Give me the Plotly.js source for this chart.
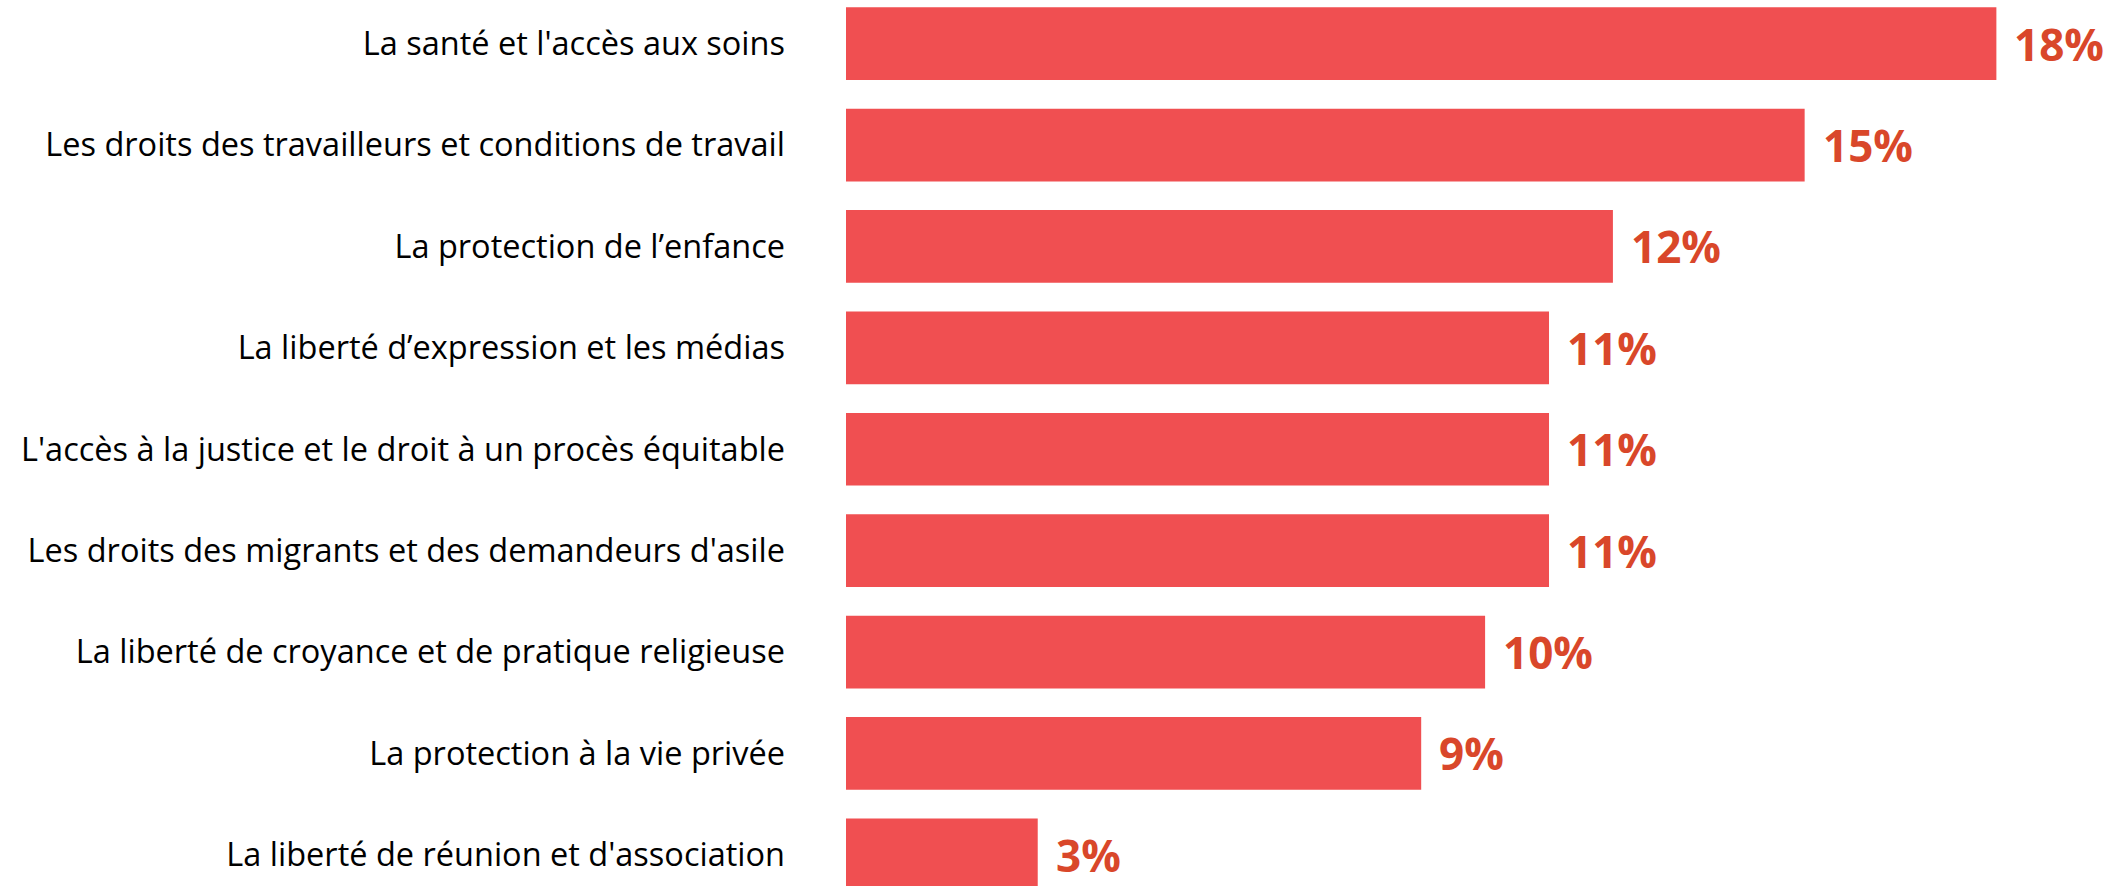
<!DOCTYPE html>
<html>
<head>
<meta charset="utf-8">
<script src="https://cdn.plot.ly/plotly-3.0.1.min.js"></script>
<style>
  html, body { margin: 0; padding: 0; background: #ffffff; }
  #chart { width: 2121px; height: 886px; }
</style>
</head>
<body>
<div id="chart"></div>
<script>
const categories = [
  "La santé et l'accès aux soins",
  "Les droits des travailleurs et conditions de travail",
  "La protection de l’enfance",
  "La liberté d’expression et les médias",
  "L'accès à la justice et le droit à un procès équitable",
  "Les droits des migrants et des demandeurs d'asile",
  "La liberté de croyance et de pratique religieuse",
  "La protection à la vie privée",
  "La liberté de réunion et d'association"
];
const values = [18, 15, 12, 11, 11, 11, 10, 9, 3];
const valueLabels = values.map(v => v + "%");

const barColor = "#F04F51";
const labelColor = "#D9472A";

const trace = {
  type: "bar",
  orientation: "h",
  x: values,
  y: categories,
  marker: { color: barColor, line: { width: 0 } },
  hoverinfo: "none"
};

const annotations = values.map((v, i) => ({
  x: v,
  y: categories[i],
  xref: "x",
  yref: "y",
  text: valueLabels[i],
  showarrow: false,
  xanchor: "left",
  yanchor: "middle",
  xshift: 16,
  font: { family: "Open Sans", size: 44, color: labelColor, weight: "bold" }
}));

const layout = {
  width: 2121,
  height: 886,
  margin: { l: 846, r: 0, t: 0, b: 0, pad: 0 },
  paper_bgcolor: "#ffffff",
  plot_bgcolor: "#ffffff",
  showlegend: false,
  bargap: 0.283,
  xaxis: {
    range: [0, 19.95],
    visible: false,
    showgrid: false,
    zeroline: false,
    fixedrange: true
  },
  yaxis: {
    type: "category",
    range: [8.307, -0.4305],
    showgrid: false,
    zeroline: false,
    showline: false,
    ticks: "",
    ticklabelstandoff: 60,
    tickfont: { family: "Open Sans", size: 32.5, color: "#000000" },
    fixedrange: true
  },
  annotations: annotations
};

Plotly.newPlot("chart", [trace], layout, { displayModeBar: false, staticPlot: true });
</script>
</body>
</html>
